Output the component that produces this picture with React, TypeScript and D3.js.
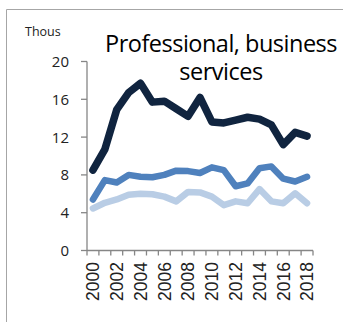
import React from "react";
import * as d3 from "d3";

const years = d3.range(2000, 2019).map(String);
const tickLabels = ["2000","2002","2004","2006","2008","2010","2012","2014","2016","2018"];
const yTicks = [0, 4, 8, 12, 16, 20];

const darkSeries = [8.5, 10.7, 14.9, 16.7, 17.7, 15.7, 15.8, 15.0, 14.2, 16.2, 13.6, 13.5, 13.8, 14.1, 13.9, 13.3, 11.2, 12.5, 12.1];
const midSeries = [5.4, 7.45, 7.2, 8.0, 7.8, 7.75, 8.0, 8.45, 8.4, 8.2, 8.8, 8.5, 6.8, 7.1, 8.7, 8.9, 7.6, 7.3, 7.8];
const lightSeries = [4.45, 5.05, 5.4, 5.9, 6.0, 5.95, 5.7, 5.2, 6.2, 6.15, 5.7, 4.8, 5.2, 5.0, 6.5, 5.2, 5.0, 6.05, 5.0];

const seriesList = [
  { values: lightSeries, color: "#b9cde5", width: 6.5 },
  { values: midSeries, color: "#4f81bd", width: 6.5 },
  { values: darkSeries, color: "#10243f", width: 7.5 },
];

const titleLines = ["Professional, business", "services"];

export default function App() {
  const W = 343, H = 322;
  const left = 87, right = 313, top = 61.5, bottom = 250.5;
  const x = d3.scaleBand<string>().domain(years).range([left, right]);
  const y = d3.scaleLinear().domain([0, 20]).range([bottom, top]);
  const line = d3.line<number>()
    .x((_, i) => (x(years[i]) as number) + x.bandwidth() / 2)
    .y((d) => y(d));
  const axisColor = "#868686";
  const boundaries = years.map((yr) => x(yr) as number).concat([right]);
  return (
    <svg width={W} height={H} style={{ position: "absolute", left: 0, top: 0 }}>
      <rect x={0} y={0} width={W} height={H} fill="#fff" />
      <line x1={6.5} y1={9.5} x2={W} y2={9.5} stroke="#a6a6a6" strokeWidth={1} />
      <line x1={6.5} y1={9.5} x2={6.5} y2={H} stroke="#a6a6a6" strokeWidth={1} />
      <text x={25} y={36} fontFamily="Open Sans" fontSize={12.5} fill="#222">Thous</text>
      <text textAnchor="middle" fontFamily="Open Sans" fontSize={23.5} fill="#000" letterSpacing={-0.5}>
        {titleLines.map((t, i) => (
          <tspan key={t} x={221} y={52 + i * 28}>{t}</tspan>
        ))}
      </text>
      <line x1={left} y1={top} x2={left} y2={bottom} stroke={axisColor} strokeWidth={1.3} />
      {yTicks.map((t) => (
        <g key={t}>
          <line x1={left - 6} x2={left} y1={y(t)} y2={y(t)} stroke={axisColor} strokeWidth={1.3} />
          <text x={69} y={y(t)} dy="0.36em" textAnchor="end" fontFamily="Open Sans" fontSize={15} fill="#222">{t}</text>
        </g>
      ))}
      <line x1={left} y1={bottom} x2={right} y2={bottom} stroke={axisColor} strokeWidth={1.3} />
      {boundaries.map((bx, i) => (
        <line key={i} x1={bx} x2={bx} y1={bottom} y2={bottom + 5} stroke={axisColor} strokeWidth={1.3} />
      ))}
      {tickLabels.map((t) => {
        const cx = (x(t) as number) + x.bandwidth() / 2;
        return (
          <text key={t} transform={`translate(${cx},262) rotate(-90)`} textAnchor="end" dy="0.36em" fontFamily="Liberation Sans" fontSize={17.5} fill="#222">{t}</text>
        );
      })}
      {seriesList.map((s, i) => (
        <path key={i} d={line(s.values) || ""} fill="none" stroke={s.color} strokeWidth={s.width} strokeLinejoin="round" strokeLinecap="round" />
      ))}
    </svg>
  );
}
